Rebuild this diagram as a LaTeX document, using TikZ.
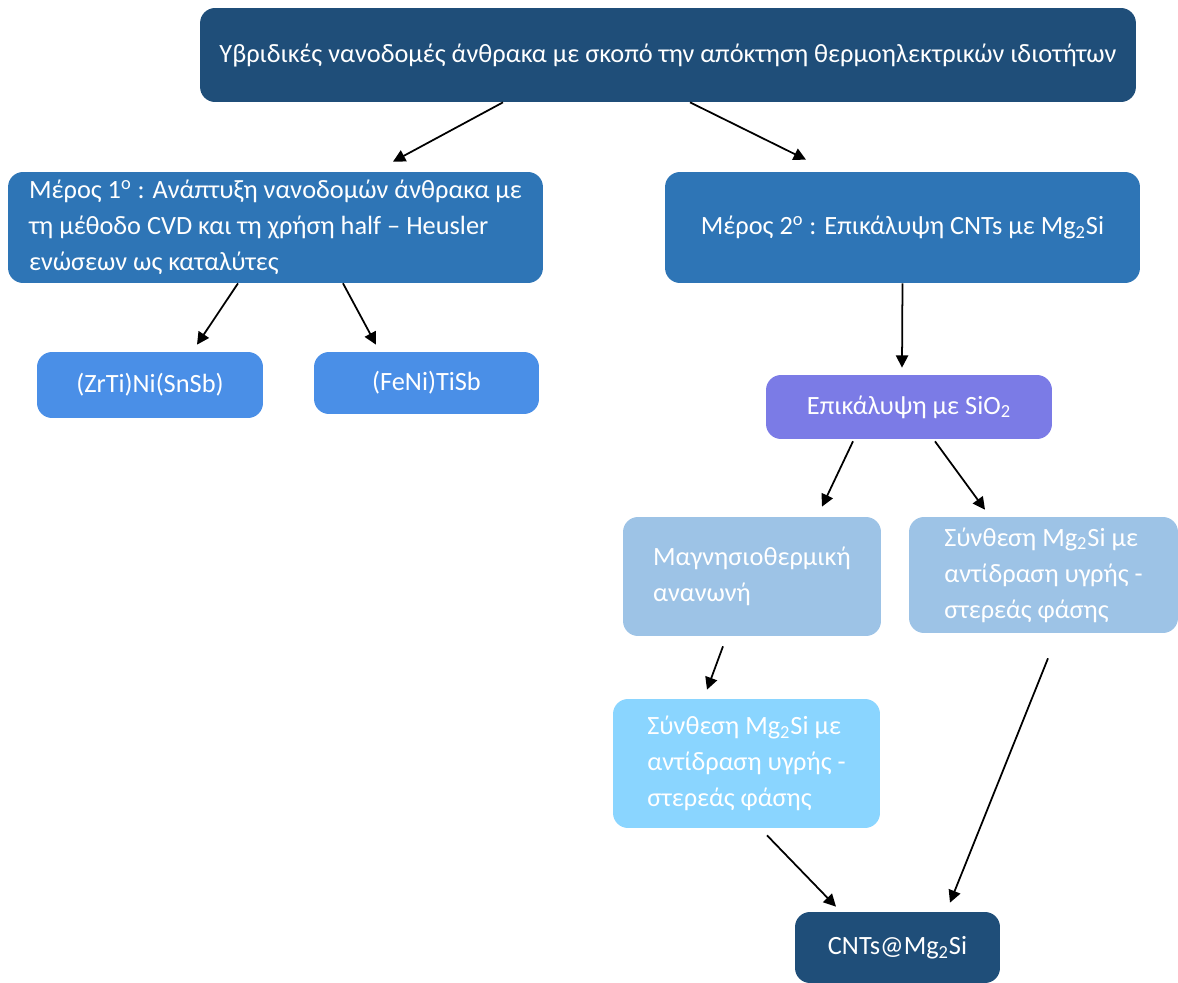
\documentclass[tikz,border=0pt]{standalone}
\usepackage{fontspec}
\setmainfont{Carlito}
\usetikzlibrary{positioning,calc,arrows.meta}
\definecolor{bdark}{HTML}{1F4E79}
\definecolor{bmid}{HTML}{2E75B6}
\definecolor{blight}{HTML}{4A8FE7}
\definecolor{bviolet}{HTML}{7B7BE6}
\definecolor{bpale}{HTML}{9DC3E6}
\definecolor{bsky}{HTML}{8AD5FF}
\tikzset{
  box/.style={rounded corners=0.3cm, text=white, inner sep=0pt, align=left,
    font=\fontsize{15}{20.5}\selectfont},
  arr/.style={-{Triangle[length=7pt,width=7pt]}, line width=1pt}
}
\begin{document}
\begin{tikzpicture}[x=0.02cm,y=-0.02cm]
	\useasboundingbox (0,0) rectangle (1178,983);
	%% top
	\node[box, fill=bdark, minimum width=18.72cm, minimum height=1.88cm] (b0) at (668,55)
		{Υβριδικές νανοδομές άνθρακα με σκοπό την απόκτηση θερμοηλεκτρικών ιδιοτήτων};
	%% part 1 and 2
	\node[box, fill=bmid, minimum width=10.7cm, minimum height=2.22cm] (b1) at (275.5,227.5)
		{Μέρος 1\textsuperscript{ο} : Ανάπτυξη νανοδομών άνθρακα με\\τη μέθοδο CVD και τη χρήση half – Heusler\\ενώσεων ως καταλύτες};
	\node[box, fill=bmid, minimum width=9.5cm, minimum height=2.22cm] (b2) at (902.5,227.5)
		{Μέρος 2\textsuperscript{ο} : Επικάλυψη CNTs με Mg\textsubscript{2}Si};
	\node[box, fill=blight, minimum width=4.52cm, minimum height=1.32cm] (b11) at (150,385) {(ZrTi)Ni(SnSb)};
	\node[box, fill=blight, minimum width=4.5cm, minimum height=1.24cm] (b12) at (426.5,383) {(FeNi)TiSb};
	%% coating branch
	\node[box, fill=bviolet, minimum width=5.72cm, minimum height=1.28cm] (b21) at (909,407) {Επικάλυψη με SiO\textsubscript{2}};
	\node[box, fill=bpale, minimum width=5.16cm, minimum height=2.38cm] (b22) at (752,576.5)
		{Μαγνησιοθερμική\\ανανωνή};
	\node[box, fill=bpale, minimum width=5.38cm, minimum height=2.32cm] (b23) at (1043.5,575)
		{Σύνθεση Mg\textsubscript{2}Si με\\αντίδραση υγρής -\\στερεάς φάσης};
	\node[box, fill=bsky, minimum width=5.34cm, minimum height=2.58cm] (b24) at (746.5,763.5)
		{Σύνθεση Mg\textsubscript{2}Si με\\αντίδραση υγρής -\\στερεάς φάσης};
	\node[box, fill=bdark, minimum width=4.1cm, minimum height=1.42cm] (b3) at (897.5,947.5) {CNTs@Mg\textsubscript{2}Si};
	% βέλη
	\draw[arr] ($(b0.south)+(-165,0)$) -- ($(b1.north)+(117.5,-10)$);
	\draw[arr] ($(b0.south)+(22,0)$) -- ($(b2.north)+(-96.5,-12)$);
	\draw[arr] ($(b1.south)+(-37.5,0)$) -- ($(b11.north)+(47,-7)$);
	\draw[arr] ($(b1.south)+(67.5,0)$) -- ($(b12.north)+(-50.5,-7)$);
	\draw[arr] (b2.south) -- ($(b21.north)+(-7,-7)$);
	\draw[arr] ($(b21.south)+(-56,2)$) -- ($(b22.north)+(70,-10)$);
	\draw[arr] ($(b21.south)+(26,2)$) -- ($(b23.north)+(-58.5,-7)$);
	\draw[arr] ($(b22.south)+(-29,10)$) -- ($(b24.north)+(-39.5,-9)$);
	\draw[arr] ($(b24.south)+(20.5,7)$) -- ($(b3.north)+(-61.5,-5)$);
	\draw[arr] ($(b23.south)+(4.5,25)$) -- ($(b3.north)+(52.5,-9)$);
\end{tikzpicture}
\end{document}
